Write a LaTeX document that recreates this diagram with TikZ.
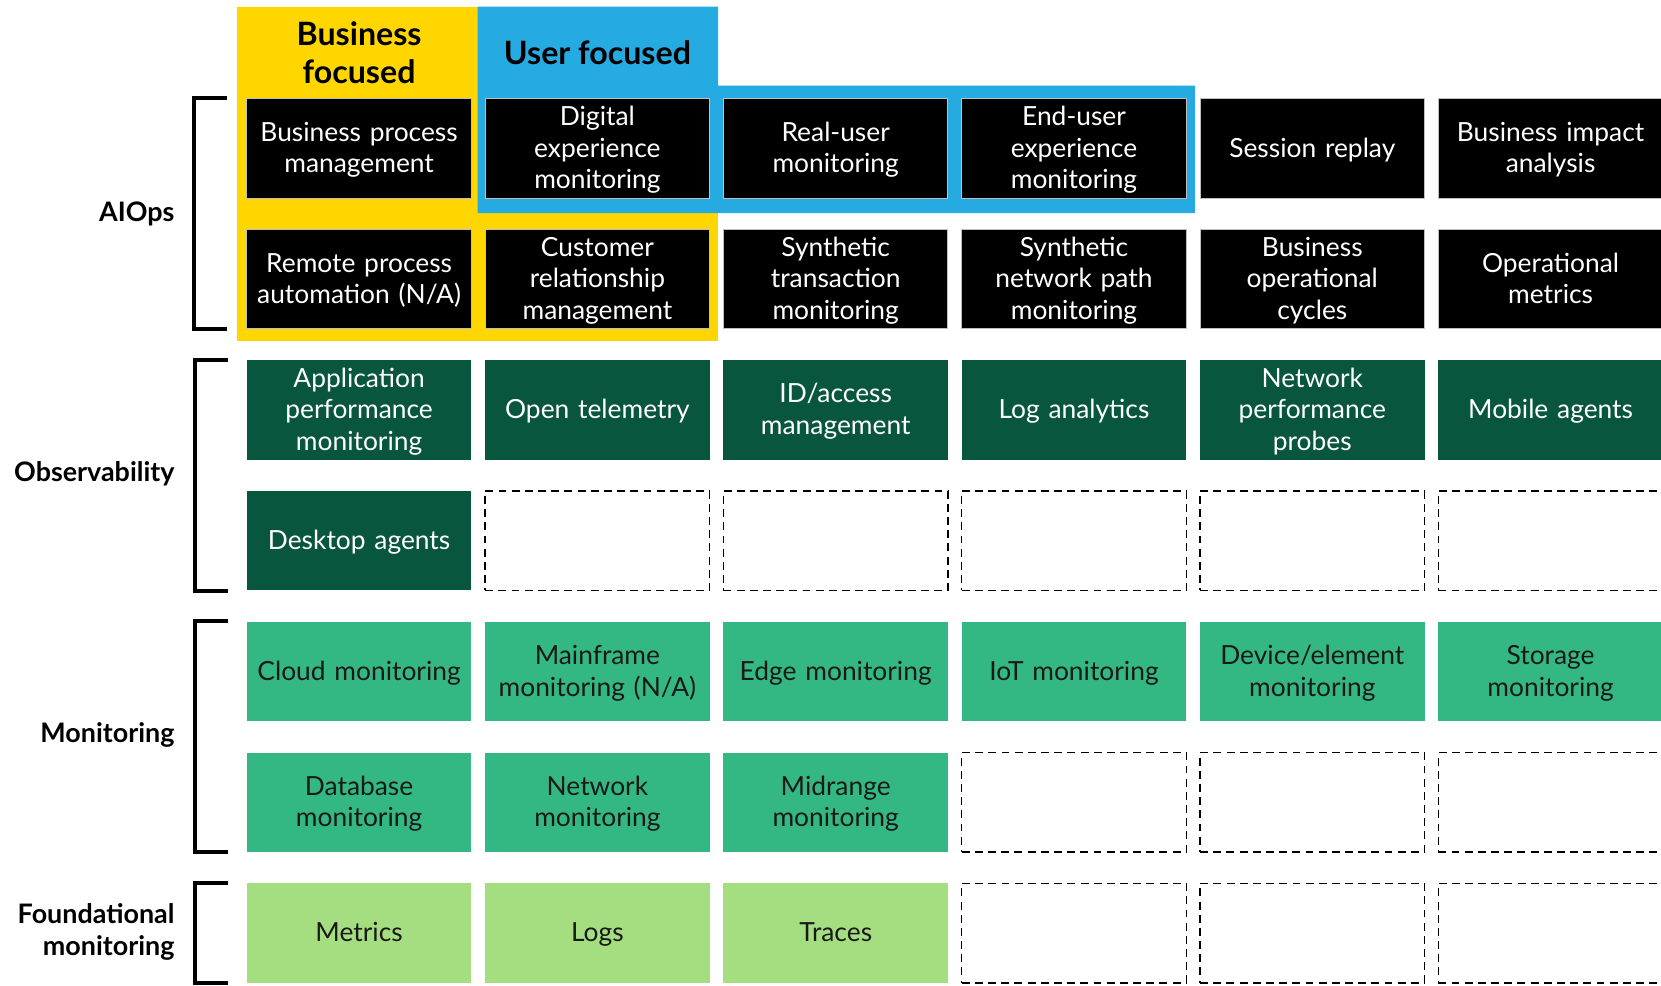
\documentclass[tikz,border=0pt]{standalone}
\usepackage{fontspec}
\setmainfont{Lato}
\usetikzlibrary{positioning,calc}

\definecolor{bizyellow}{RGB}{255,214,0}
\definecolor{userblue}{RGB}{38,170,226}
\definecolor{obsgreen}{RGB}{8,86,62}
\definecolor{mongreen}{RGB}{52,184,131}
\definecolor{fndgreen}{RGB}{165,222,128}
\definecolor{darktext}{RGB}{25,25,25}

\newcommand{\boxtop}{\rule{0pt}{14.05pt}}
\newcommand{\boxbot}{\rule[-3.95pt]{0pt}{3.95pt}}

\tikzset{
  box/.style={minimum width=4.49cm, minimum height=1.99cm, inner sep=0pt,
    text width=4.4cm, align=center, font=\fontsize{15}{18}\selectfont,
    execute at begin node=\boxtop, execute at end node=\boxbot},
  aibox/.style={box, fill=black, draw=white!75!black, line width=0.5pt, text=white},
  obsbox/.style={box, fill=obsgreen, text=white},
  monbox/.style={box, fill=mongreen, text=darktext},
  fndbox/.style={box, fill=fndgreen, text=darktext},
  emptybox/.style={box, draw=black, line width=0.8pt, dash pattern=on 4.5pt off 3pt},
  grouplabel/.style={anchor=east, align=right, inner sep=0pt,
    font=\bfseries\fontsize{15.3}{18}\selectfont},
  headlabel/.style={align=center, inner sep=0pt,
    font=\bfseries\fontsize{18.3}{21.5}\selectfont},
  brk/.style={line width=2.3pt, line join=miter}
}

\begin{document}
\begin{tikzpicture}[x=0.02cm, y=-0.02cm]
    \useasboundingbox (0,0) rectangle (1661,985);

    \fill[bizyellow] (237.3,6.7) rectangle (718.2,340.7);
    \fill[userblue] (477.7,6.7) -- (718.2,6.7) -- (718.2,85.5) -- (1194.9,85.5)
        -- (1194.9,213) -- (477.7,213) -- cycle;
    \node[headlabel] (bizhead) at (359.1,53) {Business\\focused};
    \node[headlabel] (userhead) at (597.4,53) {User focused};

    \node[aibox] (bpm) at (359.1,148.3) {Business process\\management};
    \node[aibox] (dem) at (597.4,148.3) {Digital\\experience\\monitoring};
    \node[aibox] (rum) at (835.7,148.3) {Real-user\\monitoring};
    \node[aibox] (eue) at (1074.0,148.3) {End-user\\experience\\monitoring};
    \node[aibox] (sesr) at (1312.3,148.3) {Session replay};
    \node[aibox] (bia) at (1550.6,148.3) {Business impact\\analysis};

    \node[aibox] (rpa) at (359.1,279.1) {Remote process\\automation (N/A)};
    \node[aibox] (crm) at (597.4,279.1) {Customer\\relationship\\management};
    \node[aibox] (stm) at (835.7,279.1) {Synthetic\\transaction\\monitoring};
    \node[aibox] (snpm) at (1074.0,279.1) {Synthetic\\network path\\monitoring};
    \node[aibox] (boc) at (1312.3,279.1) {Business\\operational\\cycles};
    \node[aibox] (opm) at (1550.6,279.1) {Operational\\metrics};

    \node[obsbox] (apm) at (359.1,409.9) {Application\\performance\\monitoring};
    \node[obsbox] (otel) at (597.4,409.9) {Open telemetry};
    \node[obsbox] (idam) at (835.7,409.9) {ID/access\\management};
    \node[obsbox] (loga) at (1074.0,409.9) {Log analytics};
    \node[obsbox] (npp) at (1312.3,409.9) {Network\\performance\\probes};
    \node[obsbox] (mob) at (1550.6,409.9) {Mobile agents};

    \node[obsbox] (desk) at (359.1,540.7) {Desktop agents};
    \node[emptybox] (obsB) at (597.4,540.7) {};
    \node[emptybox] (obsC) at (835.7,540.7) {};
    \node[emptybox] (obsD) at (1074.0,540.7) {};
    \node[emptybox] (obsE) at (1312.3,540.7) {};
    \node[emptybox] (obsF) at (1550.6,540.7) {};

    \node[monbox] (cloud) at (359.1,671.5) {Cloud monitoring};
    \node[monbox] (mainf) at (597.4,671.5) {Mainframe\\monitoring (N/A)};
    \node[monbox] (edge) at (835.7,671.5) {Edge monitoring};
    \node[monbox] (iot) at (1074.0,671.5) {IoT monitoring};
    \node[monbox] (devel) at (1312.3,671.5) {Device/element\\monitoring};
    \node[monbox] (stor) at (1550.6,671.5) {Storage\\monitoring};

    \node[monbox] (dbm) at (359.1,802.3) {Database\\monitoring};
    \node[monbox] (netm) at (597.4,802.3) {Network\\monitoring};
    \node[monbox] (midr) at (835.7,802.3) {Midrange\\monitoring};
    \node[emptybox] (monD) at (1074.0,802.3) {};
    \node[emptybox] (monE) at (1312.3,802.3) {};
    \node[emptybox] (monF) at (1550.6,802.3) {};

    \node[fndbox] (metr) at (359.1,933.1) {Metrics};
    \node[fndbox] (logs) at (597.4,933.1) {Logs};
    \node[fndbox] (trac) at (835.7,933.1) {Traces};
    \node[emptybox] (fndD) at (1074.0,933.1) {};
    \node[emptybox] (fndE) at (1312.3,933.1) {};
    \node[emptybox] (fndF) at (1550.6,933.1) {};

    \draw[brk] ($(bpm.north west)+(-19,0)$) -- ++(-33,0) |- ($(rpa.south west)+(-19,0)$);
    \draw[brk] ($(apm.north west)+(-19,0)$) -- ++(-33,0) |- ($(desk.south west)+(-19,0)$);
    \draw[brk] ($(cloud.north west)+(-19,0)$) -- ++(-33,0) |- ($(dbm.south west)+(-19,0)$);
    \draw[brk] ($(metr.north west)+(-19,0)$) -- ++(-33,0) |- ($(metr.south west)+(-19,0)$);

    \node[grouplabel] (aiops) at (174.8,213.5) {AIOps};
    \node[grouplabel] (obs) at (174.8,474) {Observability};
    \node[grouplabel] (mon) at (174.8,735) {Monitoring};
    \node[grouplabel] (fnd) at (174.8,932) {Foundational\\monitoring};
\end{tikzpicture}
\end{document}
